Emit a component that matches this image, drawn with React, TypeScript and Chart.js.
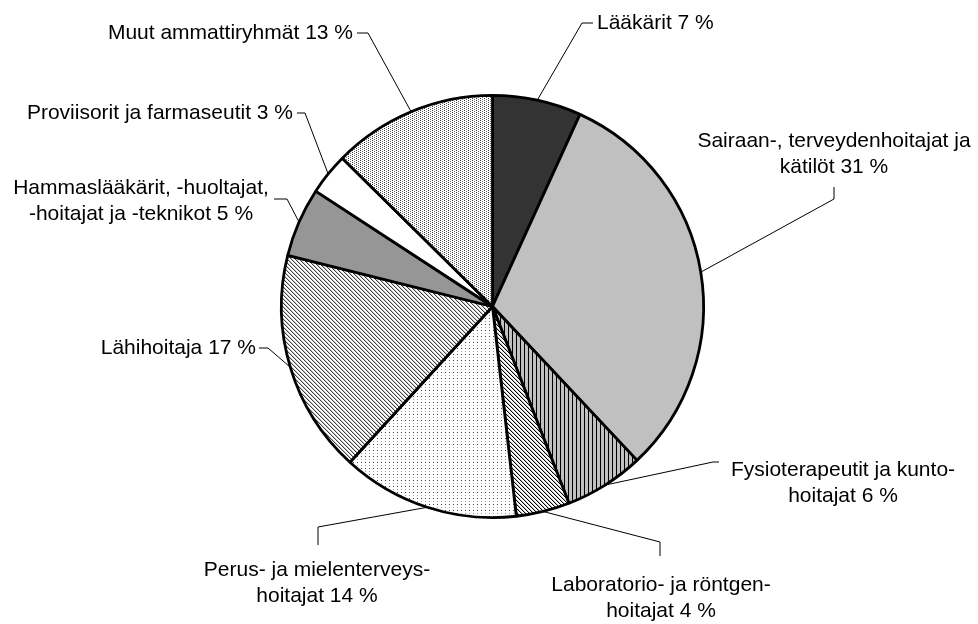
import { useEffect, useRef } from "react";
import { Chart, registerables } from "chart.js";
Chart.register(...registerables);

const categories = [
  "Lääkärit",
  "Sairaan-, terveydenhoitajat ja kätilöt",
  "Fysioterapeutit ja kuntohoitajat",
  "Laboratorio- ja röntgenhoitajat",
  "Perus- ja mielenterveyshoitajat",
  "Lähihoitaja",
  "Hammaslääkärit, -huoltajat, -hoitajat ja -teknikot",
  "Proviisorit ja farmaseutit",
  "Muut ammattiryhmät",
];
const shares = [6.8, 31.2, 6.1, 4.1, 13.6, 17.1, 5.3, 3.2, 12.6];
const labelParts = [
  ["Lääkärit"],
  ["Sairaan-, terveydenhoitajat ja", "kätilöt"],
  ["Fysioterapeutit ja kunto-", "hoitajat"],
  ["Laboratorio- ja röntgen-", "hoitajat"],
  ["Perus- ja mielenterveys-", "hoitajat"],
  ["Lähihoitaja"],
  ["Hammaslääkärit, -huoltajat,", "-hoitajat ja -teknikot"],
  ["Proviisorit ja farmaseutit"],
  ["Muut ammattiryhmät"],
];

// label placement (annotation layout)
const labelLayout: { x: number; y: number; align: CanvasTextAlign; path: number[][] }[] = [
  { x: 597, y: 23, align: "left", path: [[582, 23], [593, 23]] },
  { x: 834, y: 141, align: "center", path: [[834, 199], [834, 187]] },
  { x: 843, y: 470, align: "center", path: [[713, 462], [719, 462]] },
  { x: 661, y: 585, align: "center", path: [[660, 542], [660, 556]] },
  { x: 317, y: 570, align: "center", path: [[318, 527], [318, 545]] },
  { x: 256, y: 348, align: "right", path: [[268, 348], [259, 348]] },
  { x: 141, y: 188, align: "center", path: [[287, 199], [274, 199]] },
  { x: 293, y: 113, align: "right", path: [[305, 113], [297, 113]] },
  { x: 353, y: 33, align: "right", path: [[368, 33], [357, 33]] },
];
const LINE_H = 26;
const FONT = "21px 'Liberation Sans', Arial, sans-serif";

function makePattern(w: number, h: number, bg: string, px: [number, number, string][]) {
  const c = document.createElement("canvas");
  c.width = w;
  c.height = h;
  const g = c.getContext("2d")!;
  g.fillStyle = bg;
  g.fillRect(0, 0, w, h);
  for (const [x, y, col] of px) {
    g.fillStyle = col;
    g.fillRect(x, y, 1, 1);
  }
  return g.createPattern(c, "repeat")!;
}

export default function App() {
  const ref = useRef<HTMLCanvasElement>(null);
  useEffect(() => {
    document.body.style.margin = "0";
    const fysio = makePattern(4, 1, "#c0c0c0", [[0, 0, "#000"]]);
    const lab = makePattern(4, 4, "#ffffff", [
      [0, 0, "#000"], [1, 1, "#000"], [2, 2, "#000"], [3, 3, "#000"],
      [1, 0, "#c0c0c0"], [2, 1, "#c0c0c0"], [3, 2, "#c0c0c0"], [0, 3, "#c0c0c0"],
    ]);
    const perus = makePattern(4, 6, "#ffffff", [[1, 0, "#404040"], [1, 3, "#a0a0a0"]]);
    const lahi = makePattern(4, 4, "#ffffff", [
      [0, 0, "#404040"], [1, 1, "#404040"], [2, 2, "#404040"], [3, 3, "#404040"],
      [1, 0, "#c8c8c8"], [2, 1, "#c8c8c8"], [3, 2, "#c8c8c8"], [0, 3, "#c8c8c8"],
    ]);
    const muut = makePattern(4, 2, "#ffffff", [[0, 0, "#3a3a3a"], [2, 1, "#707070"]]);
    const colors = ["#333333", "#c0c0c0", fysio, lab, perus, lahi, "#969696", "#ffffff", muut];

    const labelsPlugin = {
      id: "leaderLabels",
      afterDraw(chart: any) {
        const ctx = chart.ctx as CanvasRenderingContext2D;
        const arcs = chart.getDatasetMeta(0).data;
        ctx.save();
        ctx.strokeStyle = "#000";
        ctx.lineWidth = 1;
        arcs.forEach((arc: any, i: number) => {
          const { x, y, startAngle, endAngle, outerRadius } = arc.getProps(
            ["x", "y", "startAngle", "endAngle", "outerRadius"], true);
          const a = (startAngle + endAngle) / 2;
          const L = labelLayout[i];
          ctx.beginPath();
          ctx.moveTo(x + outerRadius * Math.cos(a), y + outerRadius * Math.sin(a));
          for (const [px, py] of L.path) ctx.lineTo(px, py);
          ctx.stroke();
          const lines = labelParts[i].slice();
          lines[lines.length - 1] += ` ${Math.round(shares[i])} %`;
          ctx.font = FONT;
          ctx.fillStyle = "#000";
          ctx.textAlign = L.align;
          ctx.textBaseline = "middle";
          lines.forEach((t, k) => ctx.fillText(t, L.x, L.y + k * LINE_H));
        });
        ctx.restore();
      },
    };

    const chart = new Chart(ref.current!, {
      type: "pie",
      data: {
        labels: categories,
        datasets: [{
          data: shares,
          backgroundColor: colors as any,
          borderColor: "#000",
          borderWidth: 2.8,
        }],
      },
      options: {
        animation: false,
        responsive: false,
        layout: { padding: { top: 94, bottom: 105, left: 280, right: 273 } },
        plugins: { legend: { display: false }, tooltip: { enabled: false } },
      },
      plugins: [labelsPlugin],
    });
    return () => chart.destroy();
  }, []);
  return (
    <div style={{ position: "absolute", left: 0, top: 0, width: 978, height: 624, background: "#fff" }}>
      <canvas ref={ref} width={978} height={624} style={{ display: "block" }} />
    </div>
  );
}
